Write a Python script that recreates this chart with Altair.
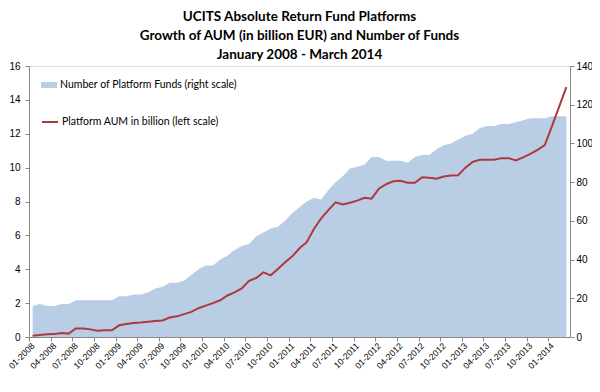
import json
import altair as alt
import pandas as pd

# ---- data ----
funds = [16, 17, 16, 16, 17, 17, 19, 19, 19, 19, 19, 19, 21, 21, 22, 22, 23, 25, 26, 28, 28, 29, 32, 35, 37,
         37, 40, 42, 45, 47, 48, 52, 54, 56, 57, 60, 64, 67, 70, 72, 71, 76, 80, 83, 87, 88, 89, 93, 93, 91,
         91, 91, 90, 93, 94, 94, 97, 99, 100, 102, 104, 105, 108, 109, 109, 110, 110, 111, 112, 113, 113, 113, 114, 114, 114]
aum = [0.08, 0.12, 0.16, 0.17, 0.24, 0.2, 0.5, 0.5, 0.45, 0.37, 0.4, 0.4, 0.69, 0.77, 0.83, 0.86, 0.9, 0.94, 0.98, 1.15, 1.22, 1.35, 1.48, 1.7, 1.85,
       2.0, 2.17, 2.45, 2.63, 2.87, 3.32, 3.48, 3.82, 3.64, 4.01, 4.41, 4.76, 5.24, 5.6, 6.38, 7.0, 7.49, 7.95, 7.83, 7.93, 8.05, 8.22, 8.17, 8.76, 9.02,
       9.19, 9.23, 9.11, 9.11, 9.43, 9.4, 9.35, 9.47, 9.53, 9.55, 10.0, 10.34, 10.46, 10.46, 10.46, 10.56, 10.56, 10.42, 10.6, 10.81, 11.05, 11.33, 12.45, 13.6, 14.75]
month_labels = [f"{m:02d}-{y}" for y in range(2008, 2015) for m in range(1, 13)][:75]
tick_labels = month_labels[::3]
left_ticks = [0, 2, 4, 6, 8, 10, 12, 14, 16]
right_ticks = [0, 20, 40, 60, 80, 100, 120, 140]

funds_name = "Number of Platform Funds (right scale)"
aum_name = "Platform AUM in billion (left scale)"

df = pd.DataFrame({
    "idx": list(range(len(funds))),
    "month": month_labels,
    "funds": funds,
    "aum": aum,
    "s1": funds_name,
    "s2": aum_name,
})

W, H = 541, 271
step = W / len(funds)
AX = "#E67C87"
FONT = "Lato"

label_expr = json.dumps(tick_labels) + "[round(datum.value / 3)]"

x_enc = alt.X(
    "idx:Q",
    scale=alt.Scale(domain=[-0.5, len(funds) - 0.5], nice=False, zero=False),
    axis=alt.Axis(
        values=list(range(0, len(funds), 3)),
        labelExpr=label_expr,
        labelAngle=-45,
        labelAlign="right",
        labelBaseline="middle",
        labelPadding=3,
        labelOverlap=False,
        labelBound=False,
        tickOffset=-step / 2,
        labelOffset=step / 2,
        tickSize=4,
        grid=False,
        title=None,
        labelFontSize=8.8,
    ),
)

base = alt.Chart(df)

area = base.mark_area(opacity=1).encode(
    x=x_enc,
    y=alt.Y(
        "funds:Q",
        scale=alt.Scale(domain=[0, 140], nice=False),
        axis=alt.Axis(orient="right", values=right_ticks, grid=False, title=None, tickSize=4, labelPadding=2),
    ),
    fill=alt.Fill(
        "s1:N",
        scale=alt.Scale(range=["#B9CDE5"]),
        legend=alt.Legend(
            orient="none", legendX=12, legendY=11, title=None,
            symbolType="M-1,-0.37H1V0.37H-1Z", symbolSize=256, symbolStrokeWidth=0,
            labelFont=FONT, labelFontSize=10.5, labelColor="#000", labelOffset=3, padding=0,
            labelLimit=400,
        ),
    ),
)

line = base.mark_line(strokeWidth=2).encode(
    x=x_enc,
    y=alt.Y(
        "aum:Q",
        scale=alt.Scale(domain=[0, 16], nice=False),
        axis=alt.Axis(orient="left", values=left_ticks, grid=False, title=None, tickSize=4, labelPadding=5),
    ),
    stroke=alt.Stroke(
        "s2:N",
        scale=alt.Scale(range=["#AC3A3D"]),
        legend=alt.Legend(
            orient="none", legendX=12, legendY=47, title=None,
            symbolType="stroke", symbolSize=256, symbolStrokeWidth=2,
            labelFont=FONT, labelFontSize=10.5, labelColor="#000", labelOffset=3, padding=0,
            labelLimit=400,
        ),
    ),
)

chart = (
    alt.layer(area, line)
    .resolve_scale(y="independent", fill="independent", stroke="independent")
    .properties(
        width=W,
        height=H,
        title=alt.TitleParams(
            text=[
                "UCITS Absolute Return Fund Platforms",
                "Growth of AUM (in billion EUR) and Number of Funds",
                "January 2008 - March 2014",
            ],
            anchor="middle",
            frame="group",
            font=FONT,
            fontSize=13.5,
            fontWeight="bold",
            lineHeight=19,
            color="#000",
            offset=0,
        ),
        autosize=alt.AutoSizeParams(type="none"),
        padding={"left": 21, "top": 58, "right": 22, "bottom": 47},
    )
    .configure_view(stroke=None)
    .configure_axis(
        domainColor=AX,
        tickColor=AX,
        labelFont=FONT,
        labelFontSize=8,
        labelColor="#000",
        domainWidth=1,
        tickWidth=1,
    )
    .configure(background="white")
)

chart.save("out.html", embed_options={"renderer": "svg", "actions": False})
